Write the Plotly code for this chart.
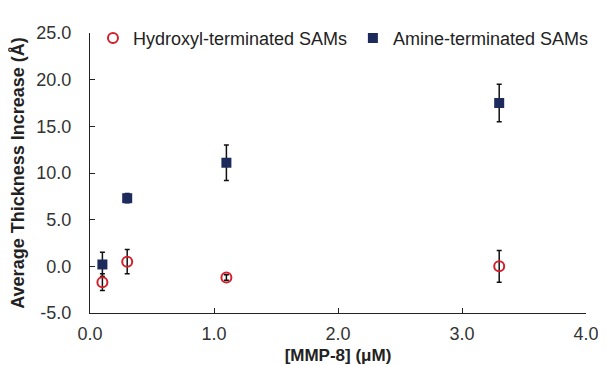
import plotly.graph_objects as go

conc = [0.1, 0.3, 1.1, 3.3]
hydroxyl = [-1.7, 0.5, -1.2, 0.0]
hydroxyl_err = [0.9, 1.3, 0.3, 1.7]
amine = [0.2, 7.3, 11.1, 17.5]
amine_err = [1.3, 0.5, 1.9, 2.0]

x_ticks = [0, 1, 2, 3, 4]
x_tick_labels = ["0.0", "1.0", "2.0", "3.0", "4.0"]
y_ticks = [-5, 0, 5, 10, 15, 20, 25]
y_tick_labels = ["-5.0", "0.0", "5.0", "10.0", "15.0", "20.0", "25.0"]

FONT = "Arial, Liberation Sans, sans-serif"

fig = go.Figure()
fig.add_trace(go.Scatter(
    x=conc, y=amine, mode="markers", name="Amine-terminated SAMs", legend="legend2",
    marker=dict(symbol="square", size=10, color="#1c2a5c"),
    error_y=dict(type="data", array=amine_err, color="#111", thickness=1.5, width=2.5),
))
fig.add_trace(go.Scatter(
    x=conc, y=hydroxyl, mode="markers", name="Hydroxyl-terminated SAMs", legend="legend",
    marker=dict(symbol="circle-open", size=10, color="#d4202c", line=dict(width=2, color="#d4202c")),
    error_y=dict(type="data", array=hydroxyl_err, color="#111", thickness=1.5, width=2.5),
))

leg_common = dict(xanchor="left", yanchor="top", itemwidth=30,
                  font=dict(family=FONT, size=18, color="#222"), bgcolor="rgba(0,0,0,0)")

fig.update_layout(
    width=598, height=357,
    margin=dict(l=82, r=16, t=12, b=52),
    plot_bgcolor="white", paper_bgcolor="white",
    font=dict(family=FONT, size=18, color="#333"),
    showlegend=True,
    legend=dict(x=0.006, y=1.047, **leg_common),
    legend2=dict(x=0.53, y=1.047, **leg_common),
    xaxis=dict(range=[0, 4], tickvals=x_ticks, ticktext=x_tick_labels, automargin=False,
               showline=True, linecolor="#222", linewidth=1.3, ticks="inside", ticklen=5,
               tickcolor="#222", showgrid=False, zeroline=False, ticklabelstandoff=4,
               tickfont=dict(size=18, color="#333"),
               title=dict(text="<b>[MMP-8] (μM)</b>", font=dict(size=17, color="#222"), standoff=6)),
    yaxis=dict(range=[-5, 25], tickvals=y_ticks, ticktext=y_tick_labels, automargin=False,
               showline=True, linecolor="#222", linewidth=1.3, ticks="inside", ticklen=5,
               tickcolor="#222", showgrid=False, zeroline=False, ticklabelstandoff=14,
               tickfont=dict(size=18, color="#333"),
               title=dict(text="<b>Average Thickness Increase (Å)</b>", font=dict(size=18, color="#222"), standoff=6)),
)
fig.write_html("out.html")
